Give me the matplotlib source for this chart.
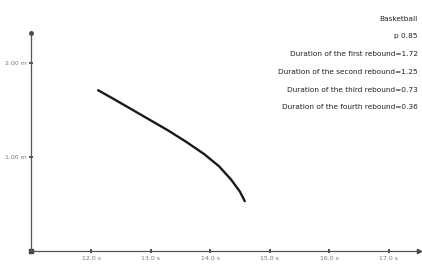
import numpy as np
from matplotlib import pyplot as plt

# curve (time in s, height in m)
t = [12.12, 12.40, 12.70, 13.00, 13.30, 13.60, 13.90, 14.15, 14.35, 14.50, 14.58]
h = [1.71, 1.61, 1.50, 1.39, 1.28, 1.16, 1.03, 0.90, 0.76, 0.63, 0.53]

x_ticks = [12, 13, 14, 15, 16, 17]
x_labels = ['12.0 s', '13.0 s', '14.0 s', '15.0 s', '16.0 s', '17.0 s']
y_ticks = [1, 2]
y_labels = ['1.00 m', '2.00 m']

info = ['Basketball',
        'p 0.85',
        'Duration of the first rebound=1.72',
        'Duration of the second rebound=1.25',
        'Duration of the third rebound=0.73',
        'Duration of the fourth rebound=0.36']

fig = plt.figure(figsize=(4.22, 2.68), dpi=100)
ax = fig.add_axes([0, 0, 1, 1])
ax.set_xlim(10.473, 17.554)
ax.set_ylim(-0.181, 2.670)

ax.plot(t, h, color='#1a1a1a', linewidth=1.7, solid_capstyle='round')

for s in ['top', 'right']:
    ax.spines[s].set_visible(False)
ax.spines['left'].set_position(('data', 11))
ax.spines['bottom'].set_position(('data', 0))
ax.spines['left'].set_bounds(0, 2.32)
ax.spines['bottom'].set_bounds(10.98, 17.5)
for s in ['left', 'bottom']:
    ax.spines[s].set_color('#555555')
    ax.spines[s].set_linewidth(0.9)

ax.plot(17.5, 0, '>', color='#444444', markersize=3, clip_on=False)
ax.plot(11, 2.32, 'o', color='#444444', markersize=2.5, clip_on=False)
ax.plot(11, 0, 's', color='#444444', markersize=2.5, clip_on=False)

ax.set_xticks(x_ticks)
ax.set_xticklabels(x_labels)
ax.set_yticks(y_ticks)
ax.set_yticklabels(y_labels)
ax.tick_params(axis='both', direction='inout', length=3, width=1.2,
               color='#333333', labelsize=4.5, labelcolor='#777777', pad=2)

for i, line in enumerate(info):
    ax.text(0.99, 0.93 - i * 0.066, line, transform=ax.transAxes,
            ha='right', va='center', fontsize=5.3, color='#222222')

fig.savefig('out.png', dpi=100)
